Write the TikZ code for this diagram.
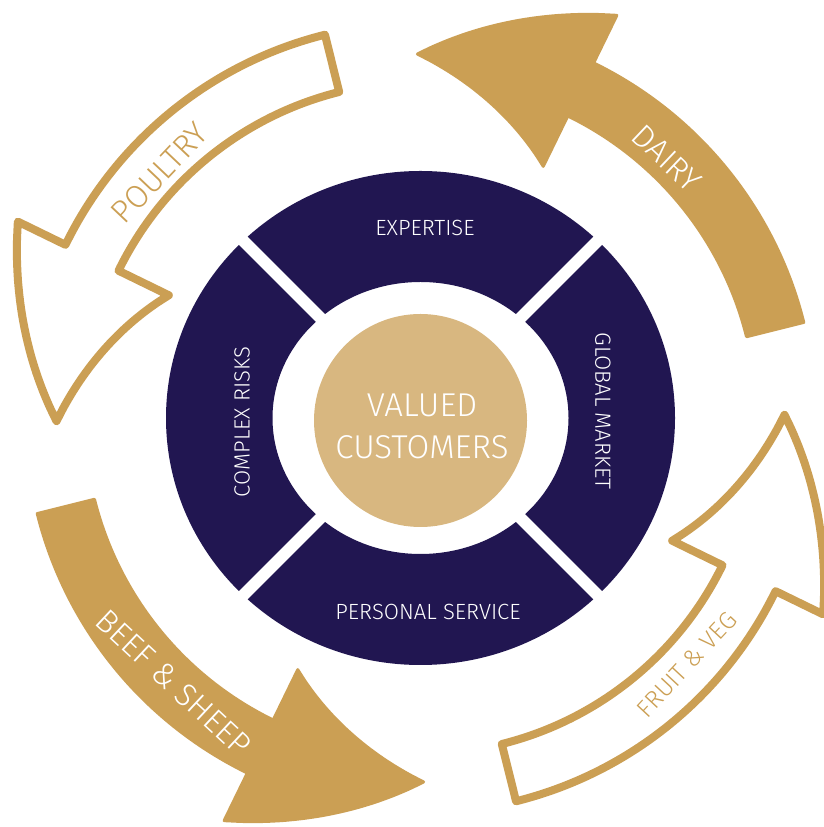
\documentclass[tikz,border=0pt]{standalone}
\usepackage{fontspec}
\setmainfont{Fira Sans}[UprightFont={* Light}]
\usepackage{xcolor}
\definecolor{agri_navy}{RGB}{33, 22, 81}
\definecolor{agri_gold}{RGB}{203, 159, 84}
\definecolor{agri_sand}{RGB}{216, 183, 128}
\usepackage{tikz}
\usetikzlibrary{calc}
% contour d'une flèche circulaire (angles relatifs)
\newcommand{\flechepath}{%
  (14:336) arc[start angle=14, end angle=64, radius=336]
  -- (64:280)
  -- plot[smooth, domain=64:90.5, samples=12] (\x:{280+84*(\x-64)/26.5})
  -- plot[smooth, domain=90.5:64, samples=12] (\x:{448-84*(\x-64)/26.5})
  -- (64:395) arc[start angle=64, end angle=14, radius=395]
  -- cycle}

\begin{document}
\begin{tikzpicture}[x=1pt, y=1pt,
    anneau/.style={text=white, font=\fontsize{22}{26}\selectfont},
    etiquette/.style={font=\fontsize{32}{36}\selectfont}]
  \useasboundingbox (0,0) rectangle (824,827);
  \clip (0,0) rectangle (824,827);
  \begin{scope}[shift={(420.5,409)}]
    % Anneau central
    \fill[agri_navy, even odd rule] (0,0) ellipse [x radius=254.5, y radius=247]
      (0,0) ellipse [x radius=148, y radius=136];
    \draw[white, line width=12pt] (45:290) -- (225:290);
    \draw[white, line width=12pt] (135:290) -- (315:290);
    \node[anneau] (expertise) at (4.5,190) {EXPERTISE};
    \node[anneau, rotate=-90] (global) at (182.5,7) {GLOBAL MARKET};
    \node[anneau] (service) at (7.5,-194) {PERSONAL SERVICE};
    \node[anneau, rotate=90] (risques) at (-178.5,-4) {COMPLEX RISKS};
    % Cercle du centre
    \node[circle, fill=agri_sand, minimum size=213pt, inner sep=0pt] (centre) at (0,-2.5) {};
    \node[text=white, align=center, font=\fontsize{33}{42}\selectfont] (valeur) at (1.5,-8)
      {VALUED\\CUSTOMERS};
    % Flèches pleines
    \filldraw[agri_gold, line width=3pt, line join=round] \flechepath;
    \begin{scope}[rotate=180]
      \filldraw[agri_gold, line width=3pt, line join=round] \flechepath;
    \end{scope}
    % Flèches vides
    \begin{scope}[rotate=90]
      \draw[agri_gold, line width=8pt, line join=round] \flechepath;
    \end{scope}
    \begin{scope}[rotate=270]
      \draw[agri_gold, line width=8pt, line join=round] \flechepath;
    \end{scope}
    \node[etiquette, text=white, rotate=-43.5] (dairy) at (46.5:358) {DAIRY};
    \node[etiquette, text=agri_gold, rotate=46.5] (poultry) at (136.8:358) {POULTRY};
    \node[etiquette, text=white, rotate=-43] (beef) at (227:362) {BEEF \& SHEEP};
    \node[text=agri_gold, rotate=47, font=\fontsize{24.5}{28}\selectfont] (fruit) at (317.2:363)
      {FRUIT \& VEG};
  \end{scope}
\end{tikzpicture}
\end{document}
